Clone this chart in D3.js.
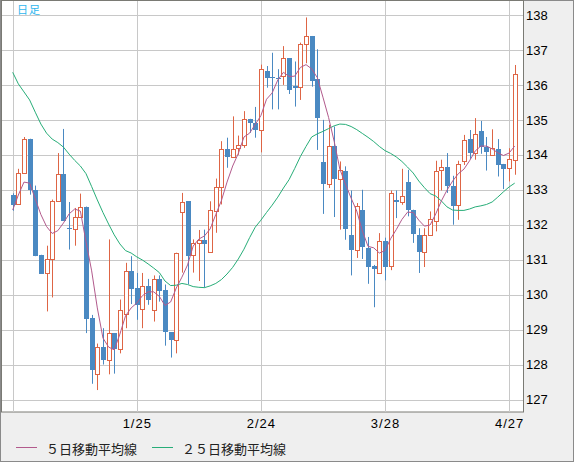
<!DOCTYPE html>
<html>
<head>
<meta charset="utf-8">
<script src="https://cdn.jsdelivr.net/npm/d3@7"></script>
<style>
  body { margin: 0; background: #fff; }
  svg { display: block; }
</style>
</head>
<body>
<div id="chart"></div>
<script>
// daily bars, 12/26 .. 4/28
const dates = ("12/26 12/27 12/28 12/29 12/30 1/2 1/3 1/4 1/5 1/6 1/9 1/10 1/11 1/12 1/13 " +
  "1/16 1/17 1/18 1/19 1/20 1/23 1/24 1/25 1/26 1/27 1/30 1/31 2/1 2/2 2/3 " +
  "2/6 2/7 2/8 2/9 2/10 2/13 2/14 2/15 2/16 2/17 2/20 2/21 2/22 2/23 2/24 " +
  "2/27 2/28 3/1 3/2 3/3 3/6 3/7 3/8 3/9 3/10 3/13 3/14 3/15 3/16 3/17 " +
  "3/20 3/21 3/22 3/23 3/24 3/27 3/28 3/29 3/30 3/31 4/3 4/4 4/5 4/6 4/7 " +
  "4/10 4/11 4/12 4/13 4/14 4/17 4/18 4/19 4/20 4/21 4/24 4/25 4/26 4/27 4/28").split(" ");

const opens = [132.86, 132.59, 133.48, 134.46, 133.0, 131.14, 130.62, 131.02, 132.69, 133.45,
  131.91, 131.88, 132.22, 132.52, 129.33, 127.74, 128.5, 128.14, 128.9, 128.43,
  129.44, 130.69, 130.19, 129.59, 130.26, 129.56, 130.45, 130.12, 128.93, 128.72,
  132.37, 132.67, 131.12, 131.47, 131.55, 131.22, 132.41, 133.09, 134.17, 133.94,
  134.2, 134.29, 135.03, 134.91, 134.72, 136.4, 136.22, 136.2, 136.24, 136.76,
  135.97, 135.93, 137.17, 137.4, 136.16, 133.8, 133.16, 134.26, 133.31, 133.54,
  131.71, 131.29, 132.43, 131.34, 130.81, 130.62, 131.54, 130.84, 132.71, 132.65,
  133.23, 132.43, 131.71, 131.22, 131.69, 132.11, 133.56, 133.66, 133.11, 132.55,
  133.83, 134.45, 134.05, 134.67, 134.22, 133.98, 134.16, 133.74, 133.62, 133.86];

const highs = [132.9, 133.6, 134.51, 134.46, 133.12, 131.14, 131.4, 132.72, 134.05, 134.74,
  132.65, 132.48, 132.89, 132.52, 129.42, 128.6, 129.04, 131.58, 128.9, 129.86,
  130.91, 131.1, 130.62, 130.62, 130.45, 130.55, 130.55, 130.29, 128.93, 131.2,
  132.91, 132.67, 131.58, 131.85, 131.86, 132.67, 133.32, 134.39, 134.49, 135.1,
  134.55, 135.25, 135.03, 135.37, 136.58, 136.54, 136.92, 136.45, 137.11, 136.76,
  136.67, 137.21, 137.93, 137.4, 137.02, 135.0, 134.86, 134.81, 133.81, 133.67,
  132.98, 132.62, 133.0, 131.65, 130.85, 131.76, 131.63, 132.98, 132.98, 133.6,
  133.57, 132.43, 131.9, 131.9, 132.38, 133.83, 133.86, 134.05, 133.4, 133.83,
  134.57, 134.71, 135.05, 134.97, 134.51, 134.73, 134.45, 133.74, 134.19, 136.57];

const lows = [132.4, 132.59, 133.48, 132.86, 131.1, 130.6, 129.52, 129.92, 132.69, 132.11,
  131.29, 131.4, 132.22, 128.9, 127.45, 127.27, 128.0, 127.72, 127.74, 128.32,
  129.04, 129.73, 129.28, 129.04, 129.71, 129.23, 129.8, 128.54, 128.2, 128.32,
  130.63, 130.3, 130.63, 130.39, 130.2, 131.2, 131.77, 132.58, 133.63, 133.94,
  134.0, 134.2, 134.63, 134.49, 134.07, 135.92, 135.3, 135.3, 136.0, 135.74,
  135.38, 135.57, 136.62, 135.95, 134.14, 132.31, 133.05, 132.22, 131.86, 131.57,
  130.55, 131.05, 131.02, 130.31, 129.64, 130.62, 130.41, 130.7, 132.19, 132.57,
  132.24, 131.48, 130.62, 130.79, 131.69, 131.81, 132.98, 132.91, 132.0, 132.14,
  133.71, 133.88, 133.86, 134.03, 133.55, 133.98, 133.38, 133.02, 133.24, 133.43];

const closes = [132.57, 133.48, 134.46, 133.0, 131.12, 130.6, 131.02, 132.69, 133.45, 132.11,
  131.87, 132.22, 132.51, 129.32, 127.85, 128.5, 128.14, 128.9, 128.44, 129.56,
  130.68, 130.17, 129.71, 130.26, 129.87, 130.45, 130.1, 128.93, 128.71, 131.2,
  132.66, 131.1, 131.47, 131.55, 131.43, 132.41, 133.09, 134.17, 133.94, 134.17,
  134.29, 135.03, 134.91, 134.71, 136.46, 136.21, 136.19, 136.18, 136.76, 135.85,
  135.92, 137.17, 137.4, 136.12, 135.04, 133.18, 134.26, 133.31, 133.56, 131.88,
  131.27, 132.54, 131.36, 130.81, 130.72, 131.54, 130.81, 132.92, 132.64, 132.83,
  132.43, 131.73, 131.22, 131.71, 132.16, 133.55, 133.66, 133.12, 132.55, 133.73,
  134.43, 134.04, 134.6, 134.22, 134.09, 134.19, 133.71, 133.6, 133.88, 136.31];

// moving averages
const ma5 = [132.42, 132.85, 133.22, 133.19, 132.74, 132.29, 131.95, 131.75, 131.83, 132.05,
  132.31, 132.45, 132.39, 131.51, 130.68, 129.62, 128.76, 128.5, 128.42, 128.87,
  129.39, 129.62, 129.76, 129.97, 130.08, 130.08, 129.95, 129.69, 129.79, 130.19,
  130.5, 130.85, 131.39, 131.59, 131.68, 131.88, 132.29, 132.69, 133.22, 133.68,
  134.04, 134.51, 134.62, 134.87, 135.12, 135.59, 135.77, 136.14, 136.36, 136.24,
  136.25, 136.5, 136.58, 136.46, 136.21, 135.65, 135.07, 134.38, 133.59, 133.16,
  132.76, 132.39, 131.82, 131.38, 131.34, 131.19, 131.26, 131.6, 131.86, 132.15,
  132.36, 132.35, 132.13, 131.96, 131.99, 132.31, 132.68, 132.99, 133.25, 133.46,
  133.59, 133.83, 134.11, 134.25, 134.25, 134.17, 134.06, 133.98, 134.05, 134.25];

const ma25 = [136.36, 136.03, 135.8, 135.57, 135.22, 134.88, 134.62, 134.45, 134.35, 134.22,
  134.02, 133.84, 133.68, 133.46, 133.09, 132.71, 132.35, 132.02, 131.71, 131.45,
  131.26, 131.19, 131.08, 130.99, 130.88, 130.76, 130.63, 130.39, 130.26, 130.27,
  130.32, 130.29, 130.23, 130.21, 130.2, 130.25, 130.32, 130.43, 130.59, 130.78,
  131.02, 131.3, 131.63, 131.93, 132.13, 132.35, 132.56, 132.79, 133.05, 133.29,
  133.61, 133.95, 134.24, 134.51, 134.6, 134.67, 134.75, 134.83, 134.88, 134.87,
  134.81, 134.72, 134.61, 134.5, 134.38, 134.24, 134.12, 134.04, 133.94, 133.81,
  133.65, 133.48, 133.25, 133.06, 132.89, 132.82, 132.68, 132.51, 132.42, 132.41,
  132.41, 132.45, 132.51, 132.54, 132.58, 132.65, 132.79, 132.94, 133.08, 133.19];

const yTicks = [127, 128, 129, 130, 131, 132, 133, 134, 135, 136, 137, 138];
const gridDates = ["12/26", "1/25", "2/24", "3/28", "4/27"];
const labelDates = ["1/25", "2/24", "3/28", "4/27"];
const legendNames = ["５日移動平均線", "２５日移動平均線"];

const W = 574, H = 462;
const plot = { left: 1, top: 1, right: 523, bottom: 412 };
const upColor = "#de6545", downColor = "#4a89c2";
const ma5Color = "#b25a8c", ma25Color = "#27ad78";

const svg = d3.select("#chart").append("svg")
  .attr("width", W)
  .attr("height", H);

// panel background + outer frame
svg.append("rect")
  .attr("x", 0.5).attr("y", 0.5)
  .attr("width", W - 1).attr("height", H - 1)
  .attr("fill", "#efefef")
  .attr("stroke", "#8a8a8a");

svg.append("rect")
  .attr("x", plot.left + 0.5).attr("y", plot.top - 0.5)
  .attr("width", plot.right - plot.left)
  .attr("height", plot.bottom - plot.top + 0.5)
  .attr("fill", "#fff")
  .attr("stroke", "#7a7a74");

const x = d3.scalePoint().domain(dates).range([12.7, 514.7]);
const y = d3.scaleLinear().domain([127, 138]).range([399.5, 15]);
const px = v => Math.round(x(v)) + 0.5;
const py = v => Math.round(y(v)) + 0.5;

// grid
const grid = svg.append("g").attr("stroke", "#c8c8c8").attr("stroke-width", 1);
grid.selectAll("line.h")
  .data(yTicks)
  .enter().append("line")
  .attr("class", "h")
  .attr("x1", plot.left + 1).attr("x2", plot.right)
  .attr("y1", d => py(d)).attr("y2", d => py(d));
grid.selectAll("line.v")
  .data(gridDates)
  .enter().append("line")
  .attr("class", "v")
  .attr("x1", d => px(d)).attr("x2", d => px(d))
  .attr("y1", plot.top).attr("y2", plot.bottom);

// candles
const bars = dates.map((d, i) => ({
  date: d, o: opens[i], h: highs[i], l: lows[i], c: closes[i]
}));

const candle = svg.append("g").selectAll("g")
  .data(bars)
  .enter().append("g");

candle.append("line")
  .attr("x1", d => px(d.date)).attr("x2", d => px(d.date))
  .attr("y1", d => y(d.h)).attr("y2", d => y(d.l))
  .attr("stroke", d => d.c >= d.o ? upColor : downColor)
  .attr("stroke-width", 1);

candle.append("rect")
  .attr("x", d => d.c >= d.o ? px(d.date) - 2 : px(d.date) - 2.5)
  .attr("width", d => d.c >= d.o ? 4 : 5)
  .attr("y", d => d.c >= d.o ? Math.round(y(d.c)) + 0.5 : Math.round(y(d.o)))
  .attr("height", d => Math.max(1, Math.round(Math.abs(y(d.o) - y(d.c))) - (d.c >= d.o ? 0 : 0)))
  .attr("fill", d => d.c >= d.o ? "#fff" : downColor)
  .attr("stroke", d => d.c >= d.o ? upColor : "none")
  .attr("stroke-width", 1);

// moving averages
const line = d3.line()
  .x((d, i) => x(dates[i]))
  .y(d => y(d));

svg.append("path")
  .datum(ma25)
  .attr("d", line)
  .attr("fill", "none")
  .attr("stroke", ma25Color)
  .attr("stroke-width", 1);

svg.append("path")
  .datum(ma5)
  .attr("d", line)
  .attr("fill", "none")
  .attr("stroke", ma5Color)
  .attr("stroke-width", 1);

// axes
const yAxis = svg.append("g")
  .attr("transform", `translate(${plot.right},0)`)
  .call(d3.axisRight(y).tickValues(yTicks).tickSize(0).tickPadding(3).tickFormat(d3.format("d")));
yAxis.select(".domain").remove();
yAxis.selectAll("text")
  .attr("fill", "#000")
  .style("font-family", "'Liberation Sans', Arial, sans-serif")
  .style("font-size", "13px");

const xAxis = svg.append("g")
  .attr("transform", `translate(0,${plot.bottom})`)
  .call(d3.axisBottom(x).tickValues(labelDates).tickSize(0).tickPadding(7));
xAxis.select(".domain").remove();
xAxis.selectAll("text")
  .attr("fill", "#000")
  .style("font-family", "'Liberation Sans', Arial, sans-serif")
  .style("font-size", "13px")
  .style("letter-spacing", "1px");

// 日足 label
svg.append("text")
  .attr("x", 17).attr("y", 14)
  .attr("fill", "#2fb6ee")
  .style("font-family", "'Noto Sans CJK JP', sans-serif")
  .style("font-size", "11px")
  .style("letter-spacing", "1px")
  .text("日足");

// legend
const legend = svg.append("g").selectAll("g")
  .data(legendNames)
  .enter().append("g")
  .attr("transform", (d, i) => `translate(${i === 0 ? 16 : 152},448)`);

legend.append("line")
  .attr("x1", 0).attr("x2", 21)
  .attr("y1", -0.5).attr("y2", -0.5)
  .attr("stroke", (d, i) => i === 0 ? ma5Color : ma25Color);

legend.append("text")
  .attr("x", 30).attr("y", 0)
  .attr("dominant-baseline", "central")
  .attr("fill", "#222")
  .style("font-family", "'Noto Sans CJK JP', sans-serif")
  .style("font-size", "13px")
  .text(d => d);
</script>
</body>
</html>
